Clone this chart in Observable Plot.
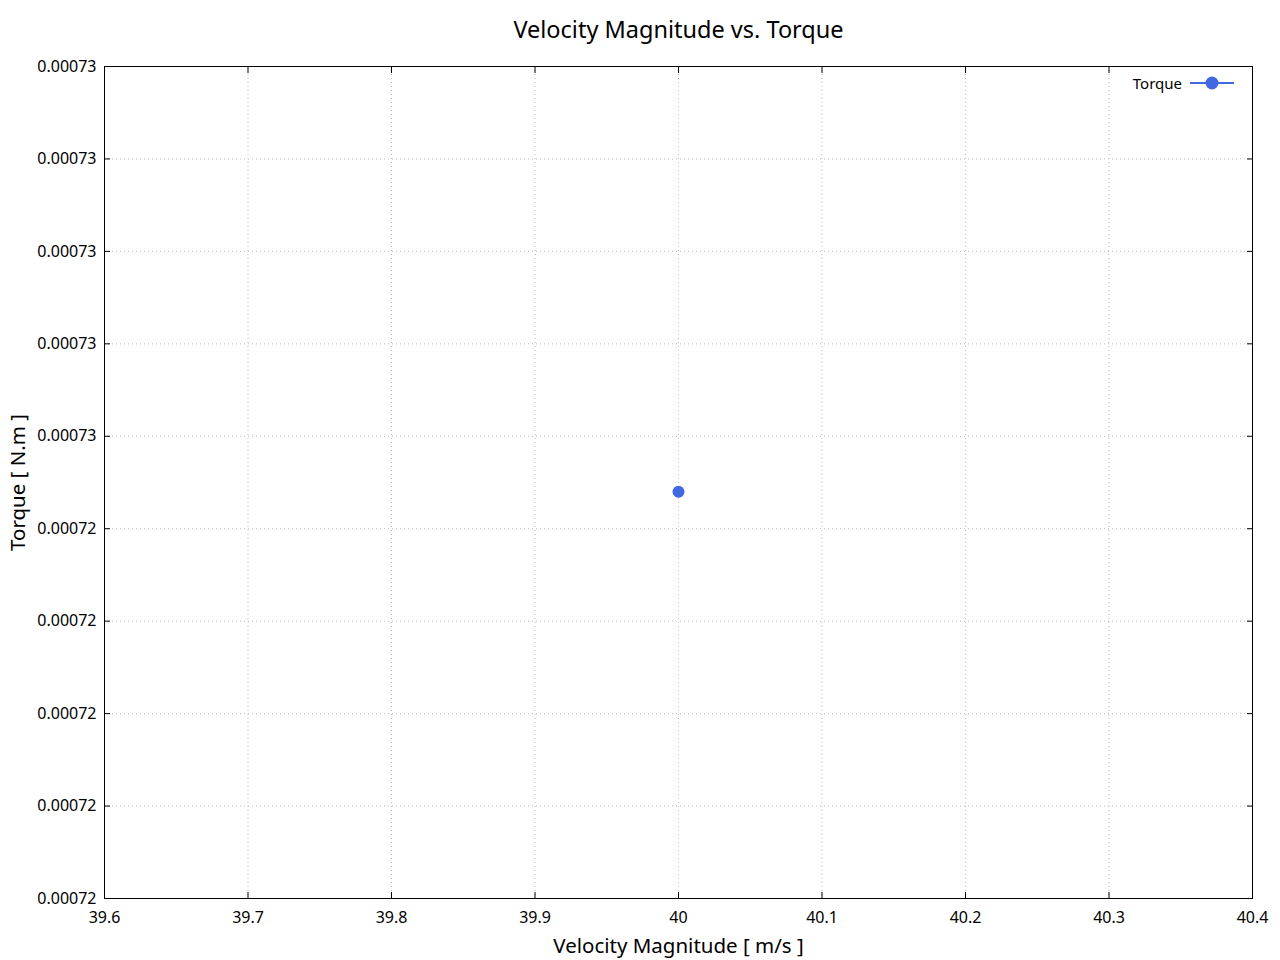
<!DOCTYPE html>
<html>
<head>
<meta charset="utf-8">
<script src="https://cdn.jsdelivr.net/npm/d3@7"></script>
<script src="https://cdn.jsdelivr.net/npm/@observablehq/plot@0.6"></script>
<style>
  html, body { margin: 0; padding: 0; background: #fff; }
  #wrap { position: relative; width: 1280px; height: 960px; font-family: "Noto Sans", sans-serif; }
  #legend { position: absolute; left: 1100px; top: 73px; display: flex; align-items: center; font-size: 15px; color: #000; }
</style>
</head>
<body>
<div id="wrap">
  <div id="chart"></div>
  <div id="legend"></div>
</div>
<script>
const title = "Velocity Magnitude vs. Torque";
const xLabel = "Velocity Magnitude [ m/s ]";
const yLabel = "Torque [ N.m ]";
const seriesName = "Torque";
const velocity = [40];
const torque = [0.0007254];
const xDomain = [39.6, 40.4];
const yDomain = [0.000721, 0.000730];
const xTicks = [39.6, 39.7, 39.8, 39.9, 40.0, 40.1, 40.2, 40.3, 40.4];
const xTickLabels = ["39.6", "39.7", "39.8", "39.9", "40", "40.1", "40.2", "40.3", "40.4"];
const yTicks = [0.000721, 0.000722, 0.000723, 0.000724, 0.000725, 0.000726, 0.000727, 0.000728, 0.000729, 0.000730];
const yTickLabels = ["0.00072", "0.00072", "0.00072", "0.00072", "0.00072", "0.00073", "0.00073", "0.00073", "0.00073", "0.00073"];
const color = "#4169e1";

const data = velocity.map((v, i) => ({x: v, y: torque[i]}));
const xFmt = d => xTickLabels[xTicks.findIndex(t => Math.abs(t - d) < 1e-9)];
const yFmt = d => yTickLabels[yTicks.findIndex(t => Math.abs(t - d) < 1e-12)];

const chart = Plot.plot({
  width: 1280,
  height: 960,
  marginTop: 66,
  marginLeft: 104,
  marginRight: 28,
  marginBottom: 62,
  style: {fontFamily: "'Noto Sans', sans-serif", fontSize: "16px", color: "#000", background: "#fff"},
  x: {domain: xDomain},
  y: {domain: yDomain},
  marks: [
    Plot.gridX(xTicks, {stroke: "#bbb", strokeOpacity: 1, strokeDasharray: "1,3"}),
    Plot.gridY(yTicks, {stroke: "#bbb", strokeOpacity: 1, strokeDasharray: "1,3"}),
    Plot.axisX(xTicks, {anchor: "bottom", tickSize: 0, tickPadding: 13, tickFormat: xFmt,
      label: xLabel, labelAnchor: "center", labelArrow: "none", labelOffset: 54}),
    Plot.axisY(yTicks, {anchor: "left", tickSize: 0, tickPadding: 8, tickFormat: yFmt,
      label: yLabel, labelAnchor: "center", labelArrow: "none", labelOffset: 94}),
    Plot.axisX(xTicks, {anchor: "bottom", tickSize: -6, tickFormat: () => "", label: null}),
    Plot.axisX(xTicks, {anchor: "top", tickSize: -6, tickFormat: () => "", label: null}),
    Plot.axisY(yTicks, {anchor: "left", tickSize: -6, tickFormat: () => "", label: null}),
    Plot.axisY(yTicks, {anchor: "right", tickSize: -6, tickFormat: () => "", label: null}),
    Plot.frame({stroke: "#000", strokeWidth: 1}),
    Plot.line(data, {x: "x", y: "y", stroke: color, strokeWidth: 2}),
    Plot.dot(data, {x: "x", y: "y", r: 6, fill: color, stroke: "none"}),
    Plot.text([title], {frameAnchor: "top", dy: -45, fontSize: 23.5, fill: "#000", text: d => d})
  ]
});
document.getElementById("chart").appendChild(chart);

chart.querySelectorAll("g[aria-label='x-axis tick label'], g[aria-label='y-axis tick label']").forEach(g => g.setAttribute("font-size", 16));
chart.querySelectorAll("g[aria-label='x-axis tick label'] text, g[aria-label='y-axis tick label'] text").forEach(t => t.setAttribute("font-size", 16));
chart.querySelectorAll("g[aria-label='x-axis label'] text, g[aria-label='y-axis label'] text").forEach(t => t.setAttribute("font-size", 20.5));

const legend = document.getElementById("legend");
legend.innerHTML = `<span style="width:82px;text-align:right;display:inline-block">${seriesName}</span>
<svg width="48" height="20" style="margin-left:8px"><line x1="0" y1="10" x2="44" y2="10" stroke="${color}" stroke-width="2"/><circle cx="22" cy="10" r="6.5" fill="${color}"/></svg>`;
</script>
</body>
</html>
